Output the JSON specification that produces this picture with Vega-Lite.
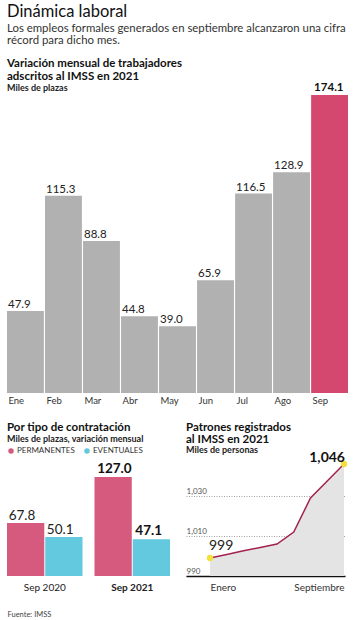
{
  "$schema": "https://vega.github.io/schema/vega-lite/v6.json",
  "padding": {"left": 7, "top": 3, "right": 5, "bottom": 0},
  "background": "white",
  "config": {"view": {"stroke": null}, "font": "Lato"},
  "title": {
    "text": "Dinámica laboral",
    "subtitle": ["Los empleos formales generados en septiembre alcanzaron una cifra", "récord para dicho mes."],
    "anchor": "start",
    "font": "Lato",
    "fontSize": 16.5,
    "fontWeight": "normal",
    "color": "#111",
    "subtitleFont": "Lato",
    "subtitleFontSize": 11.4,
    "subtitleColor": "#333",
    "subtitleLineHeight": 11.5,
    "subtitlePadding": 3,
    "offset": 12
  },
  "resolve": {"legend": {"color": "independent"}, "scale": {"color": "independent"}},
  "spacing": 16,
  "vconcat": [
    {
      "width": 341,
      "height": 298,
      "title": {
        "text": ["Variación mensual de trabajadores", "adscritos al IMSS en 2021"],
        "subtitle": "Miles de plazas",
        "anchor": "start",
        "fontSize": 11.5,
        "fontWeight": "bold",
        "lineHeight": 12.5,
        "color": "#111",
        "subtitleFontSize": 9,
        "subtitleFontWeight": "bold",
        "subtitleColor": "#222",
        "subtitlePadding": 2,
        "offset": -11
      },
      "data": {"values": [
        {"mes": "Ene", "valor": 47.9},
        {"mes": "Feb", "valor": 115.3},
        {"mes": "Mar", "valor": 88.8},
        {"mes": "Abr", "valor": 44.8},
        {"mes": "May", "valor": 39.0},
        {"mes": "Jun", "valor": 65.9},
        {"mes": "Jul", "valor": 116.5},
        {"mes": "Ago", "valor": 128.9},
        {"mes": "Sep", "valor": 174.1}
      ]},
      "encoding": {
        "x": {
          "field": "mes", "type": "nominal", "sort": null,
          "scale": {"paddingInner": 0.03, "paddingOuter": 0},
          "axis": {"title": null, "labelAngle": 0, "domain": false, "ticks": false, "labelAlign": "left", "labelOffset": -17, "labelPadding": 2, "labelFontSize": 9.5, "labelColor": "#333"}
        },
        "y": {"field": "valor", "type": "quantitative", "scale": {"domain": [0, 174.1], "nice": false}, "axis": null}
      },
      "layer": [
        {"mark": {"type": "bar"}, "encoding": {"color": {"condition": {"test": "datum.mes === 'Sep'", "value": "#d4486f"}, "value": "#b1b1b1"}}},
        {
          "transform": [{"filter": "datum.mes !== 'Sep'"}],
          "mark": {"type": "text", "align": "left", "baseline": "alphabetic", "dx": 1, "dy": -3, "fontSize": 11.5, "color": "#222"},
          "encoding": {"x": {"field": "mes", "type": "nominal", "sort": null, "bandPosition": 0}, "text": {"field": "valor", "format": ".1f"}}
        },
        {
          "transform": [{"filter": "datum.mes === 'Sep'"}],
          "mark": {"type": "text", "align": "left", "baseline": "alphabetic", "dx": 3, "dy": -4, "fontSize": 11.5, "fontWeight": "bold", "color": "#111"},
          "encoding": {"x": {"field": "mes", "type": "nominal", "sort": null, "bandPosition": 0}, "text": {"field": "valor", "format": ".1f"}}
        }
      ]
    },
    {
      "bounds": "flush",
      "spacing": 16,
      "resolve": {"legend": {"color": "independent"}, "scale": {"color": "independent"}},
      "hconcat": [
        {
          "width": 163,
          "height": 120,
          "title": {
            "text": "Por tipo de contratación",
            "subtitle": "Miles de plazas, variación mensual",
            "anchor": "start",
            "fontSize": 11.5,
            "fontWeight": "bold",
            "color": "#111",
            "subtitleFontSize": 9,
            "subtitleFontWeight": "bold",
            "subtitleColor": "#222",
            "subtitlePadding": 2,
            "offset": 3
          },
          "data": {"values": [
            {"periodo": "Sep 2020", "tipo": "PERMANENTES", "valor": 67.8},
            {"periodo": "Sep 2020", "tipo": "EVENTUALES", "valor": 50.1},
            {"periodo": "Sep 2021", "tipo": "PERMANENTES", "valor": 127.0},
            {"periodo": "Sep 2021", "tipo": "EVENTUALES", "valor": 47.1}
          ]},
          "encoding": {
            "x": {
              "field": "periodo", "type": "nominal",
              "scale": {"paddingInner": 0.137, "paddingOuter": 0},
              "axis": {
                "title": "Fuente: IMSS", "labelAngle": 0, "domain": false, "ticks": false,
                "labelFontSize": 10, "labelColor": "#222", "labelPadding": 6,
                "labelFontWeight": {"condition": {"test": "datum.value === 'Sep 2021'", "value": "bold"}, "value": "normal"},
                "titleAnchor": "start", "titleFontSize": 7.5, "titleFontWeight": "normal", "titleColor": "#444", "titlePadding": 18
              }
            },
            "xOffset": {"field": "tipo", "type": "nominal", "sort": ["PERMANENTES", "EVENTUALES"], "scale": {"paddingInner": 0.025}},
            "y": {"field": "valor", "type": "quantitative", "scale": {"domain": [0, 153.8], "nice": false}, "axis": null}
          },
          "layer": [
            {
              "mark": {"type": "bar"},
              "encoding": {
                "color": {
                  "field": "tipo", "type": "nominal",
                  "scale": {"domain": ["PERMANENTES", "EVENTUALES"], "range": ["#d65a7e", "#62c9de"]},
                  "legend": {
                    "title": null, "orient": "top", "direction": "horizontal", "symbolType": "circle", "symbolSize": 30,
                    "labelFontSize": 8, "labelColor": "#333", "columnPadding": 8, "offset": 1, "padding": 0, "labelOffset": 2,
                    "symbolStrokeWidth": 0,
                    "encode": {"symbols": {"update": {"fill": {"signal": "datum.value === 'PERMANENTES' ? '#c8174a' : '#1fb4d0'"}}}}
                  }
                }
              }
            },
            {
              "transform": [{"filter": "datum.periodo === 'Sep 2020'"}],
              "mark": {"type": "text", "align": "left", "baseline": "alphabetic", "dx": -17, "dy": -3, "fontSize": 13.5, "color": "#222"},
              "encoding": {"text": {"field": "valor", "format": ".1f"}}
            },
            {
              "transform": [{"filter": "datum.periodo === 'Sep 2021'"}],
              "mark": {"type": "text", "align": "left", "baseline": "alphabetic", "dx": -16, "dy": -4, "fontSize": 13.5, "fontWeight": "bold", "color": "#111"},
              "encoding": {"text": {"field": "valor", "format": ".1f"}}
            }
          ]
        },
        {
          "width": 159,
          "height": 120,
          "title": {
            "text": ["Patrones registrados", "al IMSS en 2021"],
            "subtitle": "Miles de personas",
            "anchor": "start",
            "fontSize": 11.5,
            "fontWeight": "bold",
            "lineHeight": 11.5,
            "color": "#111",
            "subtitleFontSize": 9,
            "subtitleFontWeight": "bold",
            "subtitleColor": "#222",
            "subtitlePadding": 1,
            "offset": -4
          },
          "data": {"values": [
            {"mes": 1, "valor": 999},
            {"mes": 2, "valor": 1000.8},
            {"mes": 3, "valor": 1002.6},
            {"mes": 4, "valor": 1004.3},
            {"mes": 5, "valor": 1006},
            {"mes": 6, "valor": 1012},
            {"mes": 7, "valor": 1029},
            {"mes": 8, "valor": 1037.5},
            {"mes": 9, "valor": 1046}
          ]},
          "encoding": {
            "x": {
              "field": "mes", "type": "quantitative",
              "scale": {"domain": [-0.433, 9.06], "nice": false, "zero": false},
              "axis": {
                "title": null, "values": [1, 9], "grid": false, "ticks": false, "labelFlush": false,
                "labelExpr": "datum.value === 1 ? 'Enero' : 'Septiembre'",
                "labelAlign": {"condition": {"test": "datum.value === 1", "value": "left"}, "value": "right"},
                "domainColor": "#111", "domainWidth": 1.5, "labelFontSize": 10, "labelColor": "#333", "labelPadding": 6
              }
            },
            "y": {
              "field": "valor", "type": "quantitative",
              "scale": {"domain": [990, 1050], "nice": false, "zero": false},
              "axis": {
                "title": null, "values": [990, 1010, 1030], "format": ",.0f", "grid": true, "gridDash": [1, 1.5], "gridColor": "#888", "gridWidth": 0.8,
                "domain": false, "ticks": false, "tickSize": 0, "labelAlign": "left", "labelPadding": 0, "labelBaseline": "alphabetic", "labelOffset": -2.5,
                "labelFontSize": 8, "labelColor": "#555"
              }
            }
          },
          "layer": [
            {"mark": {"type": "area", "color": "#e4e4e4"}, "encoding": {"y2": {"datum": 990}}},
            {"mark": {"type": "line", "color": "#a3214f", "strokeWidth": 1.5}, "encoding": {}},
            {
              "transform": [{"filter": "datum.mes === 1 || datum.mes === 9"}],
              "mark": {"type": "point", "filled": true, "color": "#f4e03a", "size": 40, "opacity": 1}
            },
            {
              "transform": [{"filter": "datum.mes === 1"}],
              "mark": {"type": "text", "align": "left", "baseline": "alphabetic", "dx": -1, "dy": -8, "fontSize": 14, "color": "#222"},
              "encoding": {"text": {"field": "valor", "format": ","}}
            },
            {
              "transform": [{"filter": "datum.mes === 9"}],
              "mark": {"type": "text", "align": "right", "baseline": "alphabetic", "dx": 1, "dy": -2, "fontSize": 14, "fontWeight": "bold", "color": "#111"},
              "encoding": {"text": {"field": "valor", "format": ","}}
            }
          ]
        }
      ]
    }
  ]
}
